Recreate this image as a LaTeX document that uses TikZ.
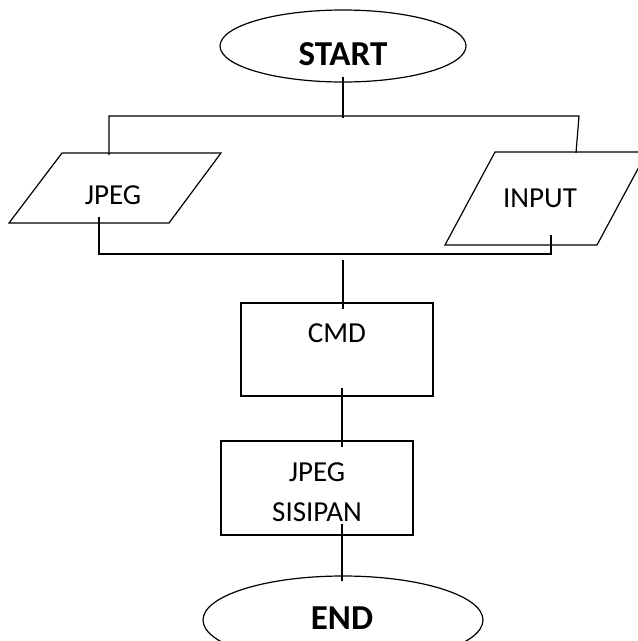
\documentclass[tikz,border=0pt]{standalone}
\usepackage{fontspec}
\setmainfont{Carlito}
\usetikzlibrary{shapes.geometric}

\begin{document}
\begin{tikzpicture}[x=1pt, y=-1pt, line width=1.2pt,
  every node/.style={font=\fontsize{29}{40}\selectfont},
  term/.style={draw, ellipse, inner sep=0pt},
  proc/.style={draw, rectangle, inner sep=0pt},
  termtxt/.style={font=\fontsize{35}{40}\selectfont\bfseries}]
  \clip (0,0) rectangle (638,641);
  % terminals
  \node[term, minimum width=246pt, minimum height=72pt] (start) at (343,46) {};
  \node[termtxt] (starttxt) at (343,54) {START};
  \node[term, minimum width=280pt, minimum height=88pt] (end) at (343,620) {};
  \node[termtxt] (endtxt) at (342,618) {END};
  % input shapes
  \draw (62,153) -- (221,153) -- (169,223) -- (9,223) -- cycle;
  \node (jpeg) at (113,195) {JPEG};
  \draw (495,152) -- (647,152) -- (597,245) -- (445,245) -- cycle;
  \node (input) at (540,198) {INPUT};
  % process boxes
  \node[proc, minimum width=192pt, minimum height=93pt] (cmd) at (337,349.5) {};
  \node (cmdtxt) at (337,333) {CMD};
  \node[proc, minimum width=192pt, minimum height=94pt] (out) at (317,488) {};
  \node[align=center] (outtxt) at (317,492) {JPEG\\SISIPAN};
  % branch to the two inputs
  \coordinate (fork) at (343,117);
  \draw ([yshift=6pt]start.south) -- ([yshift=-1pt]fork);
  \draw (109,155) |- (579,116) -- (576,153);
  % join below the inputs
  \coordinate (merge) at (343,260);
  \draw (99,217) |- (551,254) -- (551,235);
  \draw (merge) -- (merge |- 0,309);
  % main chain
  \draw (342,388) -- (342,447);
  \draw (342,524) -- ([yshift=-6pt]end.north -| 342,0);
\end{tikzpicture}
\end{document}
